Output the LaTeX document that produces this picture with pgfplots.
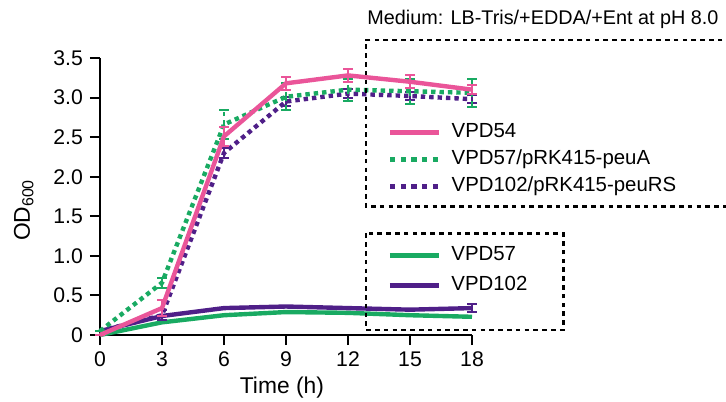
\documentclass[border=0pt]{standalone}
\usepackage{fontspec}
\setmainfont{Liberation Sans}
\usepackage{pgfplots}
\pgfplotsset{compat=1.18}
\definecolor{cPink}{HTML}{EA5599}
\definecolor{cGreen}{HTML}{19AA62}
\definecolor{cPurple}{HTML}{4F1F88}

\pgfplotsset{
  errb/.style={error bars/.cd, y dir=both, y explicit,
    error bar style={line width=1pt},
    error mark options={rotate=90, mark size=2.3pt, line width=1pt}},
  dotline/.style={line width=2.2pt, dash pattern=on 2.2pt off 2pt},
  lg/.style={legend image code/.code={\draw[##1] (0pt,0pt) -- (24.5pt,0pt);}},
}

\begin{document}
\begin{tikzpicture}
\useasboundingbox (-50pt,-33pt) rectangle (313pt,167.5pt);
\begin{axis}[
  scale only axis, width=186pt, height=138.5pt,
  xmin=0, xmax=18, ymin=0, ymax=3.5,
  clip=false,
  axis x line*=bottom, axis y line*=left,
  axis line style={line width=1pt, black},
  tick align=outside, major tick length=5pt,
  tick style={line width=1pt, black},
  xtick={0,3,...,18}, xticklabels={0,3,6,9,12,15,18},
  ytick={0,0.5,...,3.5}, yticklabels={0,0.5,1.0,1.5,2.0,2.5,3.0,3.5},
  ticklabel style={font=\fontsize{10.6}{12}\selectfont},
  xlabel={Time (h)}, ylabel={OD\textsubscript{600}},
  label style={font=\fontsize{11.4}{13}\selectfont},
  xlabel style={at={(axis description cs:0.489,-0.191)}, anchor=center},
  ylabel style={at={(axis description cs:-0.205,0.451)}, anchor=center},
  lg,
  legend style={draw=none, fill=none, inner sep=0pt, column sep=5pt, row sep=4pt,
    font=\fontsize{10.2}{12}\selectfont,
    nodes={inner sep=0pt, text height=7.5pt, text depth=2pt},
    at={(axis description cs:0.7715,0.768)}, anchor=north west},
  legend cell align=left,
]
% VPD57
\addplot[cGreen, line width=2.2pt, forget plot] coordinates {
  (0,0.0) (3,0.16) (6,0.25) (9,0.29) (12,0.28) (15,0.25) (18,0.23)};
% VPD102
\addplot[cPurple, line width=2.2pt, forget plot, errb] coordinates {
  (0,0.05) +- (0,0) (3,0.24) +- (0,0) (6,0.34) +- (0,0) (9,0.36) +- (0,0)
  (12,0.34) +- (0,0) (15,0.32) +- (0,0) (18,0.34) +- (0,0.05)};
% VPD102/pRK415-peuRS
\addplot[cPurple, dotline, forget plot, errb] coordinates {
  (0,0.05) +- (0,0) (3,0.25) +- (0,0.06) (6,2.30) +- (0,0.06) (9,2.95) +- (0,0.06)
  (12,3.05) +- (0,0.06) (15,3.02) +- (0,0.05) (18,2.98) +- (0,0.05)};
% VPD57/pRK415-peuA
\addplot[cGreen, dotline, forget plot, errb] coordinates {
  (0,0.05) +- (0,0) (3,0.66) +- (0,0.06) (6,2.66) +- (0,0.18) (9,3.01) +- (0,0.17)
  (12,3.10) +- (0,0.14) (15,3.08) +- (0,0.16) (18,3.06) +- (0,0.18)};
% VPD54
\addplot[cPink, line width=2.2pt, forget plot, errb] coordinates {
  (0,0.0) +- (0,0) (3,0.34) +- (0,0.10) (6,2.51) +- (0,0.12) (9,3.18) +- (0,0.08)
  (12,3.28) +- (0,0.08) (15,3.20) +- (0,0.08) (18,3.10) +- (0,0.06)};
\addlegendimage{cPink, line width=2.5pt}
\addlegendentry{VPD54}
\addlegendimage{cGreen, line width=2.65pt, dash pattern=on 2.65pt off 2.7pt}
\addlegendentry{VPD57/pRK415-peuA}
\addlegendimage{cPurple, line width=2.65pt, dash pattern=on 2.65pt off 2.7pt}
\addlegendentry{VPD102/pRK415-peuRS}
\end{axis}
\begin{axis}[
  scale only axis, width=186pt, height=138.5pt,
  xmin=0, xmax=18, ymin=0, ymax=3.5, hide axis,
  lg,
  legend style={draw=none, fill=none, inner sep=0pt, column sep=5pt, row sep=5.5pt,
    font=\fontsize{10.2}{12}\selectfont,
    nodes={inner sep=0pt, text height=7.5pt, text depth=2pt},
    at={(axis description cs:0.7715,0.324)}, anchor=north west},
  legend cell align=left,
]
\addlegendimage{cGreen, line width=2.5pt}
\addlegendentry{VPD57}
\addlegendimage{cPurple, line width=2.5pt}
\addlegendentry{VPD102}
\end{axis}
\draw[line width=1.3pt, dash pattern=on 2.3pt off 2.1pt] (320pt,147.5pt) -- (133pt,147.5pt) -- (133pt,64.2pt) -- (320pt,64.2pt);
\draw[line width=1.3pt, dash pattern=on 2.3pt off 2.1pt] (133pt,50.8pt) rectangle (231.7pt,2.5pt);
\node[anchor=base west, inner sep=0pt, font=\fontsize{9.9}{12}\selectfont] at (133.5pt,155pt) {Medium: LB-Tris/+EDDA/+Ent at pH 8.0};
\end{tikzpicture}
\end{document}
